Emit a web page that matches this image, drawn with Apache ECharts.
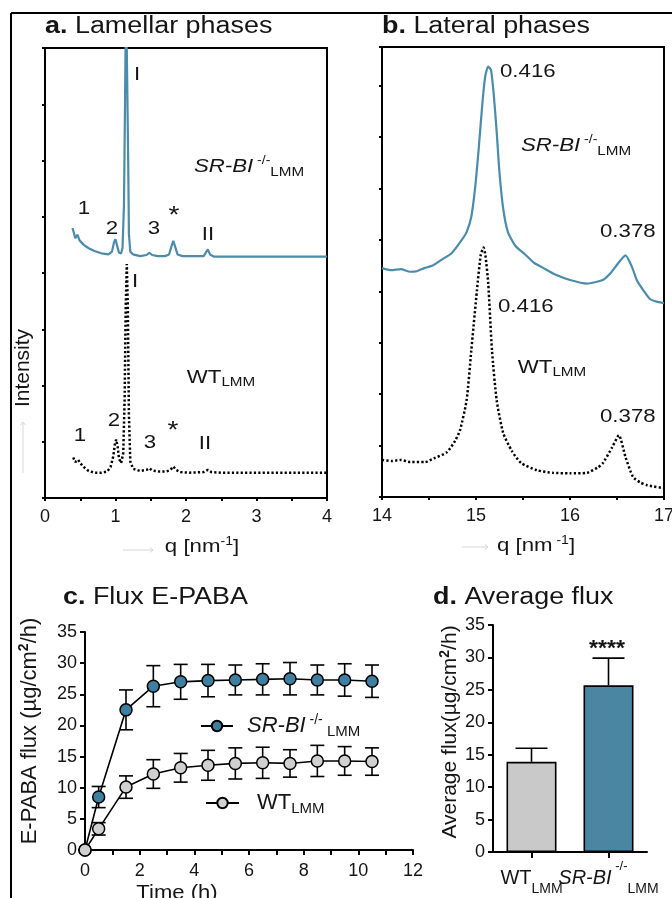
<!DOCTYPE html>
<html><head><meta charset="utf-8">
<script src="https://cdn.jsdelivr.net/npm/echarts@6/dist/echarts.min.js"></script>
<style>html,body{margin:0;padding:0;background:#fff}#c{width:672px;height:898px}</style>
</head><body><div id="c"></div>
<script>
// ---- Panel a: lamellar phases, [q (nm^-1), intensity (a.u.)]
const lamellarSRBI = [[0.39,4.80],[0.43,4.62],[0.46,4.68],[0.49,4.58],[0.55,4.50],[0.62,4.44],[0.70,4.39],[0.80,4.35],[0.90,4.33],[0.95,4.38],[0.98,4.55],[1.00,4.60],[1.02,4.50],[1.05,4.36],[1.08,4.35],[1.10,4.45],[1.12,5.2],[1.135,7],[1.15,9],[1.165,9],[1.18,6],[1.19,4.7],[1.21,4.38],[1.25,4.33],[1.35,4.30],[1.44,4.32],[1.48,4.36],[1.52,4.32],[1.60,4.30],[1.70,4.30],[1.76,4.33],[1.80,4.50],[1.82,4.57],[1.85,4.45],[1.88,4.33],[1.95,4.30],[2.10,4.30],[2.25,4.30],[2.29,4.38],[2.31,4.42],[2.34,4.33],[2.40,4.29],[2.6,4.29],[3.0,4.29],[3.5,4.29],[4.0,4.29]];
const lamellarWT = [[0.40,0.72],[0.43,0.64],[0.47,0.68],[0.50,0.62],[0.55,0.55],[0.62,0.48],[0.70,0.45],[0.80,0.45],[0.88,0.47],[0.93,0.55],[0.97,0.75],[0.99,0.95],[1.01,1.04],[1.03,0.92],[1.05,0.70],[1.08,0.62],[1.11,0.80],[1.13,1.8],[1.145,3.4],[1.16,4.16],[1.175,3.4],[1.19,1.5],[1.21,0.65],[1.25,0.52],[1.35,0.48],[1.44,0.50],[1.48,0.53],[1.52,0.49],[1.62,0.47],[1.72,0.47],[1.78,0.50],[1.82,0.56],[1.86,0.50],[1.92,0.46],[2.05,0.45],[2.25,0.46],[2.31,0.50],[2.36,0.46],[2.5,0.45],[3.0,0.45],[3.5,0.45],[4.0,0.45]];
// ---- Panel b: lateral phases
const lateralSRBI = [[14.0,4.45],[14.1,4.41],[14.2,4.43],[14.3,4.38],[14.37,4.39],[14.45,4.45],[14.54,4.50],[14.64,4.62],[14.74,4.74],[14.83,4.95],[14.90,5.15],[14.95,5.45],[14.99,6.0],[15.03,6.8],[15.07,7.7],[15.10,8.2],[15.13,8.37],[15.16,8.3],[15.19,7.8],[15.22,7.1],[15.25,6.3],[15.29,5.6],[15.34,5.15],[15.42,4.88],[15.52,4.72],[15.62,4.55],[15.71,4.46],[15.85,4.32],[16.0,4.22],[16.18,4.15],[16.35,4.22],[16.43,4.35],[16.51,4.54],[16.59,4.70],[16.66,4.47],[16.71,4.22],[16.78,4.02],[16.85,3.85],[16.92,3.80],[17.0,3.77]];
const lateralWT = [[14.0,0.72],[14.1,0.70],[14.2,0.72],[14.3,0.68],[14.46,0.68],[14.55,0.75],[14.69,0.87],[14.78,1.1],[14.83,1.3],[14.90,1.88],[14.95,2.85],[15.01,4.02],[15.05,4.7],[15.08,4.85],[15.10,4.7],[15.13,4.16],[15.17,2.85],[15.22,1.88],[15.29,1.24],[15.38,0.9],[15.48,0.66],[15.65,0.52],[15.82,0.47],[16.0,0.46],[16.18,0.47],[16.30,0.58],[16.35,0.66],[16.45,0.97],[16.52,1.2],[16.59,0.78],[16.67,0.39],[16.75,0.28],[16.82,0.23],[17.0,0.17]];
// ---- Panel c: flux E-PABA over time
const fluxTime = [0,0.5,1.5,2.5,3.5,4.5,5.5,6.5,7.5,8.5,9.5,10.5];
const fluxSRBI = [0,8.5,22.5,26.3,27.0,27.2,27.3,27.4,27.5,27.3,27.3,27.1];
const fluxSRBIErr = [0,1.7,3.2,3.3,2.8,2.6,2.4,2.5,2.6,2.4,2.6,2.6];
const fluxWT = [0,3.4,10.1,12.2,13.2,13.6,13.9,14.0,13.9,14.3,14.3,14.2];
const fluxWTErr = [0,1.0,1.8,2.3,2.3,2.4,2.5,2.5,2.2,2.5,2.3,2.2];
// ---- Panel d: average flux
const avgGroups = ['WT', 'SR-BI'];
const avgFlux = [13.9, 25.7];
const avgErr = [2.1, 4.2];
const qTicksA = [0,1,2,3,4];
const qTicksB = [14,15,16,17];

const FF = '"Liberation Sans", Arial, Helvetica, sans-serif';
const BLUE = '#4b8bab', BAR_BLUE = '#4a86a2', MK_BLUE = '#3f7f9f', GRAY = '#c9c9c9', MK_GRAY = '#d0d0d0';
const SX = 1.17;
const TXT = '#151515';

function txt(x, y, text, o) {
  o = o || {};
  return {type:'text', x:x, y:y, z:100, scaleX: o.sx !== undefined ? o.sx : SX, scaleY:1, rotation:o.rot||0,
    style:{text:text, fill:o.color||TXT, fontSize:o.size||19, fontFamily:FF,
      fontWeight:o.bold?'bold':'normal', fontStyle:o.italic?'italic':'normal',
      align:o.align||'center', verticalAlign:o.va||'middle', textAlign:o.align||'center', textVerticalAlign:o.va||'middle',
      rich:o.rich}};
}
function gline(x1,y1,x2,y2,color,w){ return {type:'line', z:100, shape:{x1:x1,y1:y1,x2:x2,y2:y2}, style:{stroke:color, lineWidth:w}}; }
function arrowH(x1,x2,y){ return [gline(x1,y,x2,y,'#d6d6d6',1), {type:'polyline', z:100, shape:{points:[[x2-3,y-2.5],[x2,y],[x2-3,y+2.5]]}, style:{stroke:'#d6d6d6', lineWidth:1, fill:null}}]; }
function arrowV(x,y1,y2){ return [gline(x,y1,x,y2,'#d6d6d6',1), {type:'polyline', z:100, shape:{points:[[x-2.5,y2+3],[x,y2],[x+2.5,y2+3]]}, style:{stroke:'#d6d6d6', lineWidth:1, fill:null}}]; }

const richG = {
  b:{fontWeight:'bold', fill:TXT, fontSize:23, fontFamily:FF},
  it:{fontStyle:'italic', fill:TXT, fontSize:19, fontFamily:FF, lineHeight:24},
  sup:{fill:TXT, fontSize:12, fontFamily:FF, verticalAlign:'top', lineHeight:12},
  sub:{fill:TXT, fontSize:13, fontFamily:FF, verticalAlign:'bottom', lineHeight:16},
  m:{fill:TXT, fontSize:19, fontFamily:FF, lineHeight:22},
  lm:{fill:TXT, fontSize:13, fontFamily:FF, verticalAlign:'bottom', lineHeight:17},
  n:{fill:TXT, fontSize:19, fontFamily:FF, lineHeight:22},
  s:{fill:TXT, fontSize:12, fontFamily:FF, verticalAlign:'top', lineHeight:12},
  rs:{fill:TXT, fontSize:14, fontFamily:FF, fontWeight:'bold', verticalAlign:'top', lineHeight:14},
  r:{fill:TXT, fontSize:21, fontFamily:FF, lineHeight:24},
  r2:{fill:TXT, fontSize:22, fontFamily:FF, lineHeight:25}
};
const SRBI_TXT = '{it|SR-BI}{sup| -/-}{sub|LMM}';
const WT_TXT = '{m|WT}{lm|LMM}';

const graphics = [
  gline(11,13,11,898,'#000',2), gline(11,13,672,13,'#000',2),
  txt(45,27,'{b|a.} Lamellar phases',{size:23,align:'left',rich:richG}),
  txt(382,27,'{b|b.} Lateral phases',{size:23,align:'left',rich:richG}),
  txt(63,598,'{b|c.} Flux E-PABA',{size:23,align:'left',rich:richG}),
  txt(433,598,'{b|d.} Average flux',{size:23,align:'left',rich:richG}),
  // panel a annotations
  txt(137,75,'I'), txt(249,167,SRBI_TXT,{rich:richG}),
  txt(84,209,'1'), txt(112,229,'2'), txt(154,229,'3'), txt(174,216,'*',{size:24}), txt(208,235,'II'),
  txt(135,282,'I'), txt(221,378,WT_TXT,{rich:richG}),
  txt(80,436,'1'), txt(114,421,'2'), txt(150,443,'3'), txt(173,431,'*',{size:24}), txt(205,444,'II'),
  // panel b annotations
  txt(500,72,'0.416',{align:'left'}), txt(576,146,SRBI_TXT,{rich:richG}), txt(600,232,'0.378',{align:'left'}),
  txt(498,307,'0.416',{align:'left'}), txt(552,368,WT_TXT,{rich:richG}), txt(600,417,'0.378',{align:'left'}),
  // axis names
  txt(23,368,'{r|Intensity}',{rot:Math.PI/2, sx:1, rich:richG}),
  txt(202,547,'{n|q [nm}{s|-1}{n|]}',{rich:richG}),
  txt(536,546,'{n|q [nm}{s| -1}{n|]}',{rich:richG}),
  txt(177,893,'{r|Time (h)}',{sx:1.05, rich:richG}),
  txt(30,731,'{r2|E-PABA flux (µg/cm}{rs|2}{r2|/h)}',{rot:Math.PI/2, sx:1, rich:richG}),
  txt(450,732,'{r|Average flux(µg/cm}{rs|2}{r|/h)}',{rot:Math.PI/2, sx:1, rich:richG}),
  txt(607,649,'****',{size:22, bold:true, sx:1.05})
].concat(arrowH(123,153,550), arrowH(462,488,547), arrowV(23,473,422));

const axisLineS = {show:true, lineStyle:{color:'#000', width:2}};
const tickS = (len) => ({show:true, length:len, lineStyle:{color:'#000', width:2}});
const lblS = (fmt) => ({show:true, fontSize:18, color:TXT, fontFamily:FF, formatter:fmt, showMinLabel:true, showMaxLabel:true, hideOverlap:false});

function errRender(capHalf, bottomCap) {
  return function (params, api) {
    const x = api.value(0), lo = api.value(1), hi = api.value(2);
    const a = api.coord([x, lo]), b = api.coord([x, hi]);
    const st = {stroke:'#000', lineWidth:1.6};
    const ch = [
      {type:'line', shape:{x1:a[0],y1:a[1],x2:b[0],y2:b[1]}, style:st},
      {type:'line', shape:{x1:b[0]-capHalf,y1:b[1],x2:b[0]+capHalf,y2:b[1]}, style:st}
    ];
    if (bottomCap) ch.push({type:'line', shape:{x1:a[0]-capHalf,y1:a[1],x2:a[0]+capHalf,y2:a[1]}, style:st});
    return {type:'group', children:ch};
  };
}

const legendRich = {
  it:{fontStyle:'italic', fontSize:22, fontFamily:FF, color:TXT, lineHeight:26},
  sup:{fontSize:14, fontFamily:FF, color:TXT, verticalAlign:'top', lineHeight:13},
  sub:{fontSize:15, fontFamily:FF, color:TXT, verticalAlign:'bottom', lineHeight:19},
  m:{fontSize:22, fontFamily:FF, color:TXT, lineHeight:26},
  lm:{fontSize:15, fontFamily:FF, color:TXT, verticalAlign:'bottom', lineHeight:20}
};
const dRich = {
  m:{fontSize:20, fontFamily:FF, color:TXT, lineHeight:22},
  it:{fontSize:20, fontFamily:FF, color:TXT, fontStyle:'italic', lineHeight:22},
  sub:{fontSize:14, fontFamily:FF, color:TXT, verticalAlign:'bottom', lineHeight:36},
  sup:{fontSize:13, fontFamily:FF, color:TXT, verticalAlign:'top', lineHeight:13}
};

const option = {
  animation:false,
  backgroundColor:'#fff',
  grid:[
    {left:45, top:48, width:282, height:450, show:true, borderColor:'#000', borderWidth:2, backgroundColor:'transparent', outerBoundsMode:'none', containLabel:false},
    {left:382, top:47, width:282, height:450, show:true, borderColor:'#000', borderWidth:2, backgroundColor:'transparent', outerBoundsMode:'none', containLabel:false},
    {left:85, top:632, width:328, height:218, outerBoundsMode:'none', containLabel:false},
    {left:493, top:625, width:154, height:227, outerBoundsMode:'none', containLabel:false}
  ],
  xAxis:[
    {type:'value', gridIndex:0, min:0, max:4, interval:0.5, axisLine:axisLineS, axisTick:tickS(3), splitLine:{show:false},
      axisLabel:Object.assign(lblS(v => qTicksA.indexOf(v) >= 0 ? String(v) : ''), {margin:10})},
    {type:'value', gridIndex:1, min:14, max:17, interval:0.5, axisLine:axisLineS, axisTick:tickS(3), splitLine:{show:false},
      axisLabel:Object.assign(lblS(v => qTicksB.indexOf(v) >= 0 ? String(v) : ''), {margin:10})},
    {type:'value', gridIndex:2, min:0, max:12, interval:1, axisLine:axisLineS, axisTick:tickS(5), splitLine:{show:false},
      axisLabel:Object.assign(lblS(v => v % 2 === 0 ? String(v) : ''), {margin:12})},
    {type:'category', gridIndex:3, data:avgGroups, axisLine:axisLineS, axisTick:Object.assign(tickS(6), {alignWithLabel:true}), splitLine:{show:false},
      axisLabel:{show:true, margin:8, interval:0, formatter: v => v === 'WT' ? '{m|WT}{sub|LMM}' : '{it|SR-BI}{sup| -/-}{sub|LMM}', rich:dRich}}
  ],
  yAxis:[
    {type:'value', gridIndex:0, min:0, max:8, interval:1, axisLine:axisLineS, axisTick:tickS(3), axisLabel:{show:false}, splitLine:{show:false}},
    {type:'value', gridIndex:1, min:0, max:8.75, interval:1, axisLine:axisLineS, axisTick:tickS(3), axisLabel:{show:false}, splitLine:{show:false}},
    {type:'value', gridIndex:2, min:0, max:35, interval:5, axisLine:axisLineS, axisTick:tickS(5), axisLabel:Object.assign(lblS(null), {margin:8}), splitLine:{show:false}},
    {type:'value', gridIndex:3, min:0, max:35, interval:5, axisLine:axisLineS, axisTick:tickS(5), axisLabel:Object.assign(lblS(null), {margin:8}), splitLine:{show:false}}
  ],
  legend:[
    {data:['srbi'], left:195, top:708, itemWidth:32, itemHeight:13, formatter:() => '{it|SR-BI}{sup| -/-}{sub| LMM}', textStyle:{padding:[0,0,0,9], rich:legendRich}, selectedMode:false},
    {data:['wt'], left:200, top:787, itemWidth:33, itemHeight:13, formatter:() => '{m|WT}{lm|LMM}', textStyle:{padding:[0,0,0,13], rich:legendRich}, selectedMode:false}
  ],
  graphic: graphics,
  series:[
    {name:'a-srbi', type:'line', xAxisIndex:0, yAxisIndex:0, data:lamellarSRBI, symbol:'none', clip:true, lineStyle:{color:BLUE, width:2.2}, z:3},
    {name:'a-wt', type:'line', xAxisIndex:0, yAxisIndex:0, data:lamellarWT, symbol:'none', clip:true, lineStyle:{color:'#000', width:2.5, type:[2.2,2.2]}, z:3},
    {name:'b-srbi', type:'line', xAxisIndex:1, yAxisIndex:1, data:lateralSRBI, symbol:'none', smooth:0.2, lineStyle:{color:BLUE, width:2.2}, z:3},
    {name:'b-wt', type:'line', xAxisIndex:1, yAxisIndex:1, data:lateralWT, symbol:'none', smooth:0.2, lineStyle:{color:'#000', width:2.5, type:[2.2,2.2]}, z:3},
    {name:'c-err-srbi', type:'custom', xAxisIndex:2, yAxisIndex:2, z:2, renderItem:errRender(7, true),
      data:fluxTime.map((t,i) => [t, fluxSRBI[i]-fluxSRBIErr[i], fluxSRBI[i]+fluxSRBIErr[i]])},
    {name:'c-err-wt', type:'custom', xAxisIndex:2, yAxisIndex:2, z:2, renderItem:errRender(7, true),
      data:fluxTime.map((t,i) => [t, fluxWT[i]-fluxWTErr[i], fluxWT[i]+fluxWTErr[i]])},
    {name:'srbi', type:'line', xAxisIndex:2, yAxisIndex:2, z:4, data:fluxTime.map((t,i) => [t, fluxSRBI[i]]),
      symbol:'circle', symbolSize:12, lineStyle:{color:'#000', width:1.6}, itemStyle:{color:MK_BLUE, borderColor:'#000', borderWidth:1.5}},
    {name:'wt', type:'line', xAxisIndex:2, yAxisIndex:2, z:4, data:fluxTime.map((t,i) => [t, fluxWT[i]]),
      symbol:'circle', symbolSize:12, lineStyle:{color:'#000', width:1.6}, itemStyle:{color:MK_GRAY, borderColor:'#000', borderWidth:1.5}},
    {name:'d-bar', type:'bar', xAxisIndex:3, yAxisIndex:3, barWidth:50, z:2,
      data:avgFlux.map((v,i) => ({value:v, itemStyle:{color: i === 0 ? GRAY : BAR_BLUE, borderColor:'#000', borderWidth:1.6}}))},
    {name:'d-err', type:'custom', xAxisIndex:3, yAxisIndex:3, z:3, renderItem:errRender(16, false),
      data:avgFlux.map((v,i) => [i, v, v+avgErr[i]])}
  ]
};
const chart = echarts.init(document.getElementById('c'), null, {width:672, height:898});
chart.setOption(option);
</script>
</body></html>
